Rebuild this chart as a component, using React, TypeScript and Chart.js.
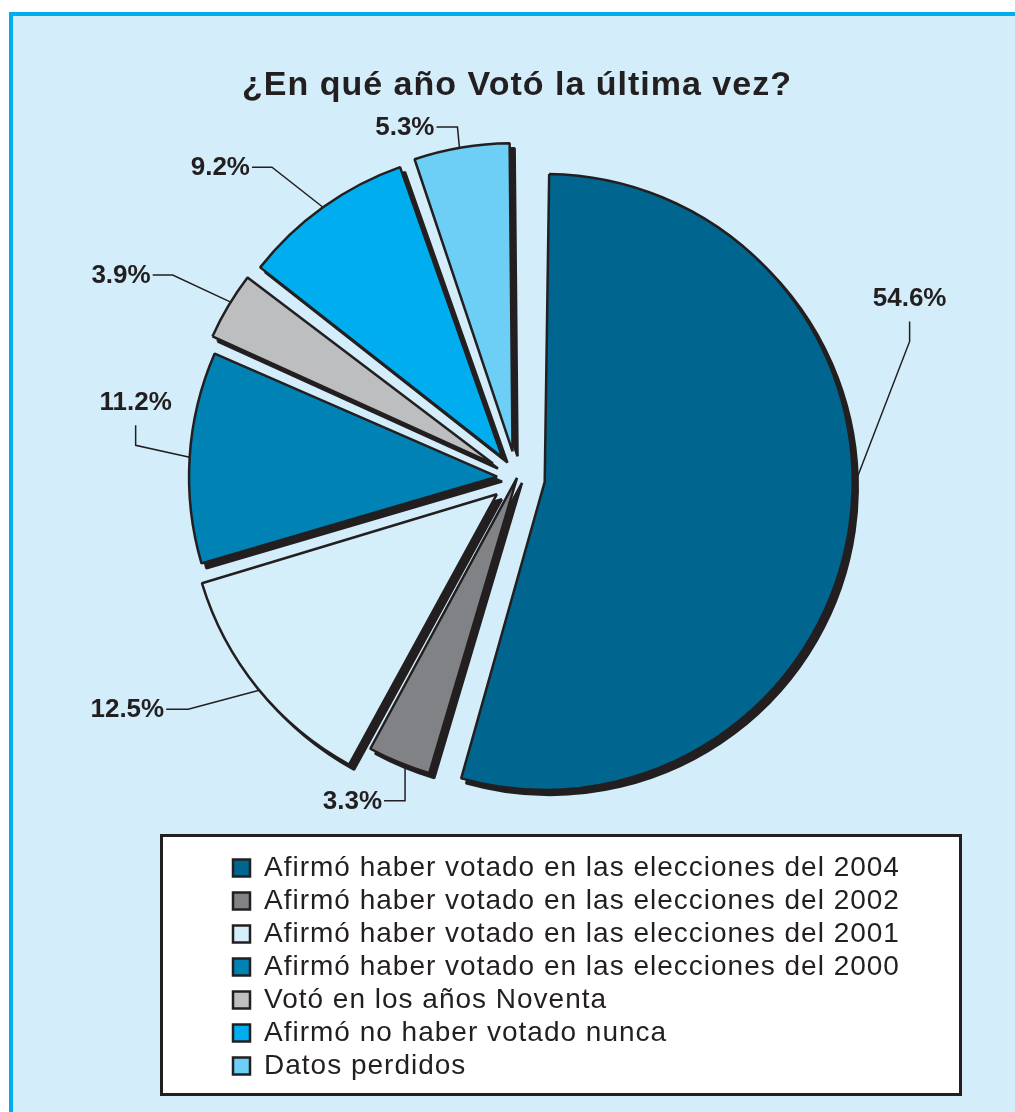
import React, { useEffect, useRef } from 'react';
import { Chart, registerables } from 'chart.js';

Chart.register(...registerables);

// ---- data ----
const categories = [
  'Afirmó haber votado en las elecciones del 2004',
  'Afirmó haber votado en las elecciones del 2002',
  'Afirmó haber votado en las elecciones del 2001',
  'Afirmó haber votado en las elecciones del 2000',
  'Votó en los años Noventa',
  'Afirmó no haber votado nunca',
  'Datos perdidos',
];
const values = [54.6, 3.3, 12.5, 11.2, 3.9, 9.2, 5.3];
const percentLabels = ['54.6%', '3.3%', '12.5%', '11.2%', '3.9%', '9.2%', '5.3%'];
const titleText = '¿En qué año Votó la última vez?';

// ---- styles ----
const sliceColors = ['#00668f', '#808285', '#d4eefa', '#0082b4', '#bcbec0', '#00aeef', '#6dcff6'];
// Chart.js v4 translates an arc by offset/4 px
const sliceOffsets = [112, 0, 104, 80, 112, 100, 108];
const INK = '#231f20';
const SHADOW_DX = 5;
const SHADOW_DY = 5;

type Lay = { frac: number; elbow: [number, number]; tail: [number, number]; side: 'left' | 'above' };
const labelLayout: Lay[] = [
  { frac: 0.465, elbow: [57, -148], tail: [0, -20], side: 'above' },
  { frac: 0.4, elbow: [0, 36], tail: [-21, 0], side: 'left' },
  { frac: 0.49, elbow: [-71, 19], tail: [-22, 0], side: 'left' },
  { frac: 0.5, elbow: [-54, -12], tail: [0, -20], side: 'above' },
  { frac: 0.56, elbow: [-58, -27], tail: [-20, 0], side: 'left' },
  { frac: 0.5, elbow: [-51, -40], tail: [-20, 0], side: 'left' },
  { frac: 0.48, elbow: [-2, -21], tail: [-21, 0], side: 'left' },
];

const spacingPlugin = {
  id: 'letterSpacing',
  beforeUpdate(chart: any) {
    (chart.ctx as any).letterSpacing = '1px';
  },
  beforeDraw(chart: any) {
    (chart.ctx as any).letterSpacing = '1px';
  },
};

const shadowPlugin = {
  id: 'sliceShadow',
  beforeDatasetsDraw(chart: any) {
    const meta = chart.getDatasetMeta(0);
    const base = meta.controller.outerRadius;
    meta.data.forEach((el: any) => {
      const t = (el.options.offset || 0) / 4;
      const fix = 1 - Math.sin(Math.min(Math.PI, el.circumference || 0));
      el.outerRadius = base - t * fix;
    });
    const ctx = chart.ctx;
    ctx.save();
    ctx.translate(SHADOW_DX, SHADOW_DY);
    meta.data.forEach((el: any) => {
      const ghost = Object.create(el);
      ghost.options = Object.assign({}, el.options, { backgroundColor: INK, borderColor: INK });
      el.draw.call(ghost, ctx);
    });
    ctx.restore();
  },
};

const labelPlugin = {
  id: 'leaderLabels',
  afterDatasetsDraw(chart: any) {
    const ctx = chart.ctx as CanvasRenderingContext2D;
    const meta = chart.getDatasetMeta(0);
    ctx.save();
    (ctx as any).letterSpacing = '0px';
    ctx.strokeStyle = INK;
    ctx.fillStyle = INK;
    ctx.lineWidth = 1.5;
    ctx.font = 'bold 26px "Liberation Sans", Arial, sans-serif';
    meta.data.forEach((el: any, i: number) => {
      const lay = labelLayout[i];
      const t = (el.options.offset || 0) / 4;
      const fix = 1 - Math.sin(Math.min(Math.PI, el.circumference || 0));
      const r = el.outerRadius + t * fix;
      const mid = (el.startAngle + el.endAngle) / 2;
      const a = el.startAngle + lay.frac * (el.endAngle - el.startAngle);
      const cx = el.x + Math.cos(mid) * t;
      const cy = el.y + Math.sin(mid) * t;
      const ax = cx + Math.cos(a) * r;
      const ay = cy + Math.sin(a) * r;
      const ex = ax + lay.elbow[0];
      const ey = ay + lay.elbow[1];
      const tx = ex + lay.tail[0];
      const ty = ey + lay.tail[1];
      ctx.beginPath();
      ctx.moveTo(ax, ay);
      ctx.lineTo(ex, ey);
      ctx.lineTo(tx, ty);
      ctx.stroke();
      if (lay.side === 'left') {
        ctx.textAlign = 'right';
        ctx.textBaseline = 'middle';
        ctx.fillText(percentLabels[i], tx - 2, ty + 1);
      } else {
        ctx.textAlign = 'center';
        ctx.textBaseline = 'alphabetic';
        ctx.fillText(percentLabels[i], tx, ty - 15);
      }
    });
    ctx.restore();
  },
};

export default function App() {
  const ref = useRef<HTMLCanvasElement | null>(null);

  useEffect(() => {
    if (!ref.current) return;
    const chart = new Chart(ref.current, {
      type: 'pie',
      data: {
        labels: categories,
        datasets: [
          {
            data: values,
            backgroundColor: sliceColors,
            borderColor: INK,
            borderWidth: 2.5,
            offset: sliceOffsets,
            clip: false as any,
          } as any,
        ],
      },
      options: {
        responsive: false,
        animation: false,
        devicePixelRatio: 1,
        radius: 308,
        layout: { padding: { top: 0, left: 228, right: 108, bottom: 22 } },
        plugins: {
          title: {
            display: true,
            fullSize: false,
            text: titleText,
            color: INK,
            font: { family: '"Liberation Sans", Arial, sans-serif', size: 34, weight: 'bold' },
            padding: { top: 65, bottom: 1 },
          },
          // empty spacer on the right so that the pie sits left of the legend's centre
          subtitle: {
            display: true,
            position: 'right',
            fullSize: false,
            text: ' ',
            font: { size: 10 },
            padding: { top: 0, bottom: 89 },
          },
          legend: {
            display: true,
            position: 'bottom',
            align: 'start',
            labels: {
              color: INK,
              font: { family: '"Liberation Sans", Arial, sans-serif', size: 28 },
              boxWidth: 17,
              boxHeight: 17,
              padding: 5,
            },
          },
          tooltip: { enabled: false },
        },
      } as any,
      plugins: [spacingPlugin, shadowPlugin, labelPlugin],
    });
    return () => chart.destroy();
  }, []);

  return (
    <div
      style={{
        position: 'fixed',
        left: 0,
        top: 0,
        width: 1015,
        height: 1112,
        overflow: 'hidden',
        background: '#ffffff',
      }}
    >
      <div
        style={{
          position: 'absolute',
          left: 9,
          top: 12,
          width: 1040,
          height: 1140,
          boxSizing: 'border-box',
          background: '#d3eefa',
          borderTop: '4px solid #00aeef',
          borderLeft: '4px solid #00aeef',
        }}
      />
      <div
        style={{
          position: 'absolute',
          left: 160,
          top: 834,
          width: 802,
          height: 262,
          boxSizing: 'border-box',
          background: '#ffffff',
          border: `3px solid ${INK}`,
        }}
      />
      <canvas
        ref={ref}
        width={1015}
        height={1112}
        style={{ position: 'absolute', left: 0, top: 0, display: 'block' }}
      />
    </div>
  );
}
